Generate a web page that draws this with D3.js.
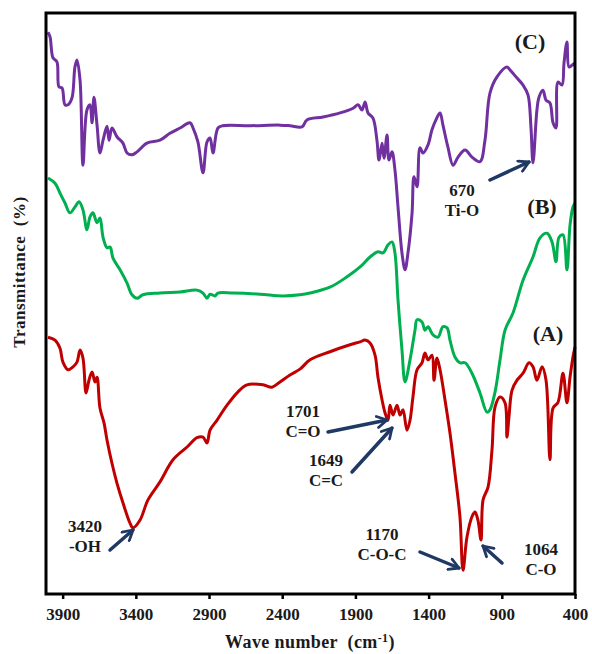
<!DOCTYPE html>
<meta charset="utf-8">
<style type="text/css">
    body { margin: 0; background: #ffffff; }
    svg text {
        font-family: "Liberation Serif", "Times New Roman", serif;
        font-weight: bold;
        fill: #1a1a1a;
        white-space: pre;
    }
</style>
<svg id="main-svg" width="592" height="654"></svg>
<script src="https://cdn.jsdelivr.net/npm/d3@7/dist/d3.min.js" type="text/javascript"></script>
<script type="text/javascript">
    // tick labels on the wave number axis
    var xTicks = [3900, 3400, 2900, 2400, 1900, 1400, 900, 400];

    // spectrum C (purple), [wave number, transmittance]
    var spectrumC = [
        [4000, 96.7], [3986, 95.9], [3966, 92.3], [3939, 91.6], [3925, 87.3], [3904, 87.1],
        [3884, 84.2], [3863, 84.2], [3836, 85.4], [3816, 90.7], [3802, 91.9], [3781, 88.4],
        [3761, 73.8], [3734, 83.3], [3713, 84.2], [3699, 81.1], [3686, 85.5], [3665, 80.7],
        [3645, 75.9], [3624, 78.1], [3597, 80.5], [3583, 78.1], [3563, 80.2], [3529, 78.7],
        [3488, 77.6], [3460, 75.9], [3426, 75.6], [3392, 76.1], [3324, 77.6], [3235, 78.1],
        [3167, 79.3], [3098, 80.2], [3030, 81.1], [3009, 80.2], [2976, 77.8], [2941, 72.5],
        [2914, 77.8], [2893, 78.5], [2873, 75.9], [2839, 80.2], [2805, 80.6], [2620, 80.6],
        [2415, 80.7], [2347, 80.6], [2265, 80.4], [2231, 81.6], [2121, 82.1], [2005, 82.8],
        [1916, 83.6], [1882, 84.2], [1855, 83.3], [1834, 84.7], [1814, 82.8], [1780, 81.9],
        [1753, 78.1], [1739, 74.7], [1718, 77.6], [1705, 75.0], [1684, 79.0], [1671, 74.7],
        [1650, 76.1], [1630, 73.0], [1609, 66.6], [1582, 58.7], [1561, 55.8], [1541, 58.7],
        [1513, 65.6], [1500, 71.8], [1479, 70.1], [1459, 76.8], [1438, 75.9], [1404, 77.3],
        [1377, 79.9], [1350, 81.6], [1322, 82.8], [1302, 80.7], [1268, 76.9], [1233, 73.8],
        [1199, 75.2], [1151, 76.4], [1104, 75.2], [1049, 74.4], [1015, 78.1], [981, 86.2],
        [933, 89.0], [865, 90.7], [844, 90.2], [796, 88.8], [755, 87.6], [721, 85.9],
        [701, 80.4], [687, 74.2], [660, 83.3], [646, 85.5], [619, 86.7], [598, 85.0],
        [571, 84.5], [550, 81.1], [530, 80.2], [516, 88.1], [489, 87.6], [475, 91.4],
        [455, 95.0], [441, 90.7], [421, 91.0], [400, 91.4]
    ];

    // spectrum B (green)
    var spectrumB = [
        [4000, 71.6], [3952, 70.7], [3918, 69.0], [3884, 67.3], [3850, 65.6], [3816, 66.6],
        [3788, 67.5], [3761, 66.1], [3734, 62.7], [3713, 64.9], [3693, 65.6], [3665, 63.9],
        [3645, 64.7], [3624, 61.4], [3597, 59.6], [3576, 59.7], [3556, 57.8], [3508, 55.8],
        [3460, 53.5], [3426, 51.5], [3392, 50.9], [3351, 51.5], [3235, 51.8], [3098, 52.0],
        [2982, 52.3], [2941, 51.8], [2914, 50.9], [2893, 51.6], [2859, 51.3], [2839, 51.8],
        [2736, 51.8], [2552, 51.6], [2395, 51.3], [2279, 51.5], [2210, 51.8], [2074, 52.8],
        [1957, 54.6], [1868, 56.3], [1800, 58.0], [1746, 58.9], [1712, 58.7], [1677, 60.1],
        [1650, 60.6], [1630, 58.7], [1609, 50.6], [1582, 42.0], [1561, 36.5], [1527, 40.3],
        [1493, 45.4], [1479, 47.2], [1445, 46.8], [1425, 45.4], [1404, 46.0], [1370, 44.6],
        [1336, 44.2], [1302, 46.0], [1274, 45.8], [1254, 43.7], [1220, 40.8], [1186, 39.8],
        [1151, 39.8], [1104, 38.0], [1049, 34.6], [1001, 31.3], [981, 31.7], [946, 34.8],
        [912, 40.3], [878, 45.4], [823, 48.4], [755, 54.0], [687, 58.0], [639, 61.3],
        [591, 62.1], [557, 60.6], [530, 57.2], [509, 61.4], [482, 61.8], [455, 55.8],
        [434, 63.5], [414, 66.6], [400, 67.3]
    ];

    // spectrum A (red)
    var spectrumA = [
        [4000, 44.2], [3952, 43.7], [3918, 42.3], [3898, 39.9], [3863, 38.6], [3829, 39.1],
        [3802, 39.9], [3781, 42.0], [3761, 40.6], [3740, 34.6], [3720, 36.8], [3699, 38.2],
        [3679, 36.5], [3665, 37.3], [3645, 32.0], [3617, 29.4], [3597, 26.5], [3563, 22.5],
        [3529, 19.1], [3488, 15.7], [3440, 12.2], [3420, 11.4], [3372, 12.7], [3317, 16.2],
        [3235, 19.3], [3146, 23.1], [3050, 25.3], [2982, 26.9], [2941, 27.0], [2914, 26.0],
        [2893, 28.2], [2846, 29.9], [2777, 32.5], [2702, 34.8], [2641, 36.0], [2531, 36.0],
        [2470, 35.6], [2415, 36.5], [2347, 37.7], [2279, 38.7], [2210, 40.3], [2074, 41.7],
        [1937, 42.9], [1868, 43.4], [1834, 43.7], [1800, 43.2], [1766, 41.1], [1746, 37.3],
        [1718, 33.4], [1698, 31.2], [1677, 29.9], [1664, 32.5], [1643, 30.8], [1616, 32.5],
        [1595, 30.8], [1575, 31.7], [1548, 28.2], [1527, 29.9], [1507, 33.9], [1479, 38.6],
        [1445, 39.8], [1425, 41.5], [1404, 40.3], [1377, 41.1], [1363, 36.8], [1343, 40.6],
        [1322, 38.6], [1288, 33.4], [1254, 27.7], [1220, 20.8], [1186, 13.3], [1165, 4.1],
        [1138, 9.8], [1104, 13.3], [1083, 14.1], [1063, 12.7], [1042, 9.3], [1028, 16.2],
        [994, 18.4], [967, 24.8], [946, 32.2], [912, 33.9], [878, 32.9], [865, 27.0],
        [851, 30.5], [830, 35.1], [796, 36.8], [755, 38.0], [714, 39.8], [687, 39.1],
        [660, 36.8], [625, 39.1], [598, 36.8], [571, 23.1], [550, 32.0], [516, 33.0],
        [482, 38.0], [455, 32.9], [434, 37.3], [414, 40.8], [400, 42.5]
    ];

    var seriesNames = ["(C)", "(B)", "(A)"];
    var seriesColors = ["#7030a0", "#00b050", "#c00000"];

    // peak annotations: two text lines each
    var peakLabels = [
        ["670", "Ti-O"],
        ["1701", "C=O"],
        ["1649", "C=C"],
        ["3420", "-OH"],
        ["1170", "C-O-C"],
        ["1064", "C-O"]
    ];

    var svg = d3.select("#main-svg");
    var plotLeft = 46, plotRight = 575, plotTop = 13, plotBottom = 594;

    var x = d3.scaleLinear().domain([4000, 400]).range([48, plotRight]);
    var y = d3.scaleLinear().domain([0, 100]).range([plotBottom, plotTop]);

    var line = d3.line()
        .curve(d3.curveCatmullRom.alpha(0.5))
        .x(function (d) { return x(d[0]); })
        .y(function (d) { return y(d[1]); });

    [spectrumC, spectrumB, spectrumA].forEach(function (s, i) {
        svg.append("path")
            .datum(s)
            .attr("d", line)
            .attr("fill", "none")
            .attr("stroke", seriesColors[i])
            .attr("stroke-width", 3)
            .attr("stroke-linejoin", "round");
    });

    // frame
    svg.append("rect")
        .attr("x", plotLeft).attr("y", plotTop)
        .attr("width", plotRight - plotLeft).attr("height", plotBottom - plotTop)
        .attr("fill", "none")
        .attr("stroke", "#000")
        .attr("stroke-width", 3);

    var xAxis = svg.append("g")
        .attr("transform", "translate(0," + plotBottom + ")")
        .call(d3.axisBottom(x).tickValues(xTicks).tickFormat(d3.format("d"))
            .tickSizeInner(5).tickSizeOuter(0).tickPadding(9));
    xAxis.select(".domain").remove();
    xAxis.selectAll(".tick line").attr("stroke", "#000").attr("stroke-width", 2.5);
    xAxis.selectAll(".tick text")
        .attr("font-family", null).attr("font-size", null)
        .style("font-size", "17px").attr("fill", "#1a1a1a");

    // axis titles
    var xt = svg.append("text")
        .attr("x", 310).attr("y", 648)
        .attr("text-anchor", "middle")
        .style("font-size", "18px")
        .style("letter-spacing", "0.4px");
    xt.append("tspan").text("Wave number  (cm");
    xt.append("tspan").text("-1").attr("dy", -6).style("font-size", "12px");
    xt.append("tspan").text(")").attr("dy", 6);

    svg.append("text")
        .attr("transform", "translate(25,272) rotate(-90)")
        .attr("text-anchor", "middle")
        .style("font-size", "17px")
        .style("letter-spacing", "0.5px")
        .text("Transmittance  (%)");

    // series labels
    var seriesLabelPos = [[530, 49], [542, 214], [548, 341]];
    seriesNames.forEach(function (n, i) {
        svg.append("text")
            .attr("x", seriesLabelPos[i][0]).attr("y", seriesLabelPos[i][1])
            .attr("text-anchor", "middle")
            .style("font-size", "22px")
            .text(n);
    });

    // annotation layout: text centre x, first baseline, arrow tail, arrow head
    var peakLayout = [
        { tx: 462, ty: 196, a: [490, 180, 529, 162] },
        { tx: 303, ty: 417, a: [328, 432, 387, 420] },
        { tx: 326, ty: 466, a: [352, 472, 392, 428] },
        { tx: 85, ty: 532, a: [110, 550, 133, 530] },
        { tx: 382, ty: 540, a: [420, 552, 459, 568] },
        { tx: 541, ty: 555, a: [502, 563, 483, 546] }
    ];

    var navy = "#1f3864";
    svg.append("defs").append("marker")
        .attr("id", "head")
        .attr("viewBox", "0 0 10 10")
        .attr("refX", 8).attr("refY", 5)
        .attr("markerWidth", 4).attr("markerHeight", 4)
        .attr("markerUnits", "strokeWidth")
        .attr("orient", "auto")
        .append("path")
        .attr("d", "M1,1 L8,5 L1,9")
        .attr("fill", "none")
        .attr("stroke", navy)
        .attr("stroke-width", 2)
        .attr("stroke-linecap", "round")
        .attr("stroke-linejoin", "round");

    peakLabels.forEach(function (lbl, i) {
        var p = peakLayout[i];
        var t = svg.append("text")
            .attr("text-anchor", "middle")
            .style("font-size", "17px");
        t.append("tspan").attr("x", p.tx).attr("y", p.ty).text(lbl[0]);
        t.append("tspan").attr("x", p.tx).attr("y", p.ty + 20).text(lbl[1]);

        svg.append("line")
            .attr("x1", p.a[0]).attr("y1", p.a[1])
            .attr("x2", p.a[2]).attr("y2", p.a[3])
            .attr("stroke", navy)
            .attr("stroke-width", 3.5)
            .attr("stroke-linecap", "round")
            .attr("marker-end", "url(#head)");
    });
</script>
